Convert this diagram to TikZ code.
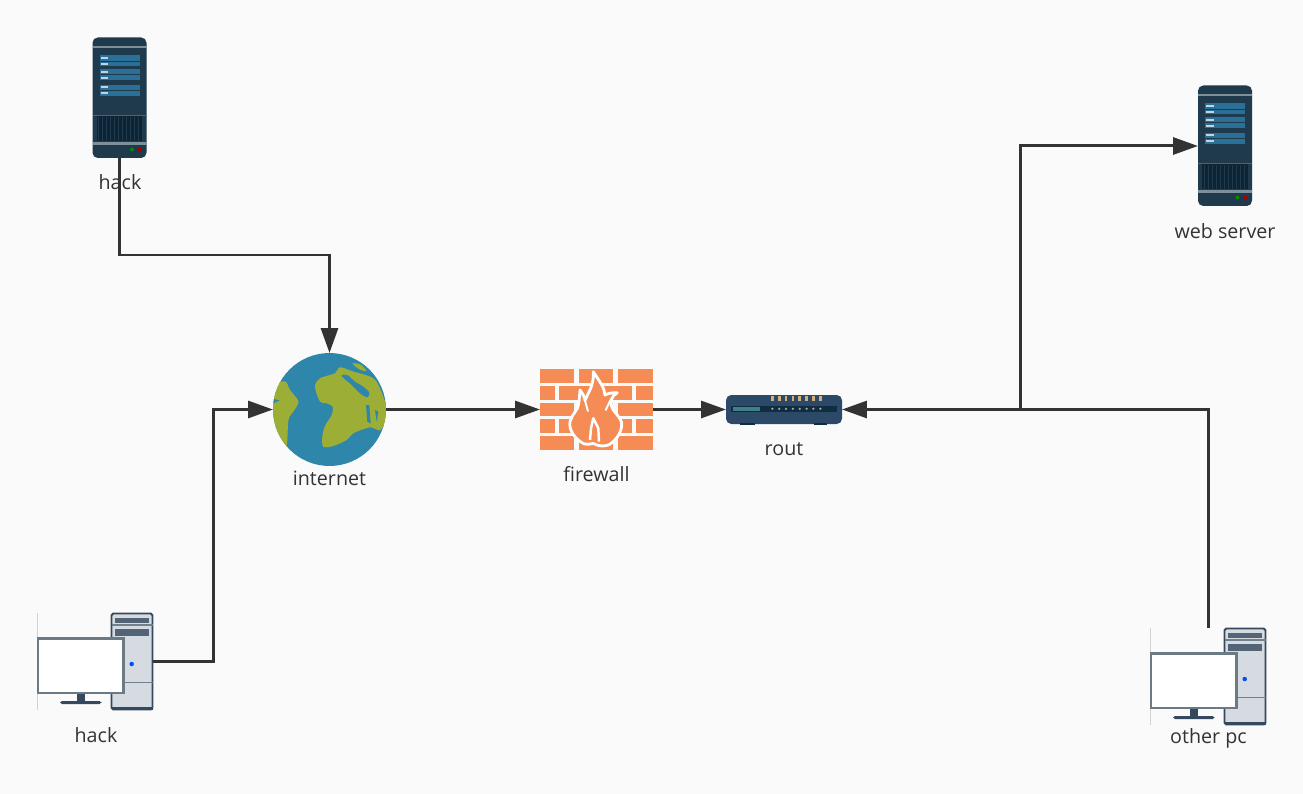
\documentclass[tikz,border=0pt]{standalone}
\usepackage{fontspec}
\setmainfont{Open Sans}
\usepackage{xcolor}
\usetikzlibrary{arrows.meta, positioning}
\definecolor{pagebg}{HTML}{FAFAFA}
\definecolor{wirecol}{HTML}{333333}
\definecolor{srvbody}{HTML}{1F3A4D}
\definecolor{srvbar}{HTML}{2A6F97}
\definecolor{srvgrill}{HTML}{0F2433}
\definecolor{srvband}{HTML}{7F8F9A}
\definecolor{oceancol}{HTML}{2E86AB}
\definecolor{landcol}{HTML}{9DAE36}
\definecolor{brickcol}{HTML}{F58B55}
\definecolor{routbody}{HTML}{2C4A68}
\definecolor{routstrip}{HTML}{0F2C40}
\definecolor{routled}{HTML}{D2B07E}
\definecolor{routbar}{HTML}{3F7F86}
\definecolor{towercol}{HTML}{D5DBE1}
\definecolor{pcedge}{HTML}{34495E}
\definecolor{monedge}{HTML}{6C7A86}

\tikzset{
  srvicon/.pic={
    \fill[srvbody, rounded corners=3pt] (-27,-60.5) rectangle (27,60);
    \fill[srvband] (-27,-51.5) rectangle (27,-49.5);
    \foreach \ya/\yb in {-42.5/-36.5,-36/-32,-28.5/-23.5,-22.5/-18,-13/-8,-7/-2}{
      \fill[srvbar] (-20,\ya) rectangle (20,\yb);
      \fill[white!70!srvbar] (-19,{(\ya+\yb)/2-1}) rectangle (-11.5,{(\ya+\yb)/2+1});
    }
    \fill[srvbar] (-27,16.7) rectangle (27,17.7);
    \fill[srvgrill] (-23,18) rectangle (22.5,43.5);
    \foreach \xa in {-21,-17,...,21}{
      \draw[srvbody, line width=.4pt] (\xa,19) -- (\xa,43);
    }
    \fill[srvband] (-27,44) rectangle (27,47);
    \fill[green!55!black] (12.5,51.5) circle (.04cm);
    \fill[red!65!black] (20.2,51.5) circle (.04cm);
  },
  pcicon/.pic={
    \draw[gray!35, line width=.5pt] (-58,-48.5) -- (-58,48.5);
    \fill[towercol, draw=pcedge, line width=1.1pt, rounded corners=1pt] (16,-48) rectangle (57,48);
    \fill[pcedge] (16,45) rectangle (57,48.5);
    \fill[pcedge!85] (19.5,-43.5) rectangle (53,-39);
    \draw[pcedge!70, line width=.7pt] (16,-36.5) -- (57,-36.5);
    \fill[pcedge!85] (19.5,-33) rectangle (53,-26);
    \draw[pcedge!70, line width=.7pt] (16,21) -- (57,21);
    \fill[blue!70!cyan] (36.2,2.5) circle (.045cm);
    \fill[pcedge] (-18.5,32) rectangle (-10.5,40);
    \fill[pcedge, rounded corners=1pt] (-35.5,39.5) rectangle (6,42.5);
    \fill[white, draw=monedge, line width=1.3pt] (-57.5,-23) rectangle (28,31.5);
  },
  globeicon/.pic={
    \fill[oceancol] (0,0) circle (1.13cm);
    \begin{scope}
      \clip (0,0) circle (1.13cm);
      \fill[landcol] plot[smooth cycle, tension=.5] coordinates {(-58,-23) (-44.5,-28) (-39.5,-19.5) (-31,-8) (-36,2) (-41,10.5) (-43,37) (-49.5,27) (-58,7)};
      \fill[oceancol] (-57,-11) -- (-50,-9) -- (-57,-6) -- cycle;
      \fill[landcol] plot[smooth cycle, tension=.5] coordinates {(-14.5,-22.8) (-9.5,-31.2) (5.5,-36.2) (10.5,-42.2) (23.8,-38) (40.5,-33) (47.2,-27.8) (53.8,-12.8) (58,3.8) (51.2,20.5) (40.5,17.8) (23.8,23.8) (17.2,30.5) (3.8,36.5) (-6.2,37.2) (-7.2,27.2) (-4.5,16.5) (2.2,5.5) (3.2,-2.8) (-2.8,-6.2) (-9.5,-7.8)};
      \fill[landcol] plot[smooth cycle, tension=.5] coordinates {(23,-46) (31,-45) (37,-38.5) (30,-40)};
      \fill[oceancol] plot[smooth cycle, tension=.5] coordinates {(12.2,-33.5) (17.8,-34.5) (25.5,-27.8) (33.8,-22.8) (39.8,-16.8) (37.8,-12.2) (30.5,-16.2) (22.2,-24.5)};
      \fill[oceancol] (36.5,-4.5) -- (39.8,-4.5) -- (41.2,14) -- (37.8,12.2) -- cycle;
      \fill[oceancol] (45.5,.5) -- (48.8,2.2) -- (47.2,12.2) -- cycle;
    \end{scope}
  },
  firewallicon/.pic={
    \foreach \ya in {-40.2,-7,26.5}{
      \foreach \xa/\xb in {-56.5/-22.2,-17.2/16.8,21.8/56.2}{
        \fill[brickcol] (\xa,\ya) rectangle (\xb,\ya+13.5);
      }
    }
    \foreach \ya in {-23.5,9.8}{
      \foreach \xa/\xb in {-56.5/-41.5,-37.2/-3.2,1.8/35.2,39.5/56.2}{
        \fill[brickcol] (\xa,\ya) rectangle (\xb,\ya+13.5);
      }
    }
    \fill[brickcol, draw=white, line width=1.6pt, line join=round]
      (-3.2,-37.8) .. controls (3,-28) and (8,-22) .. (8.5,-14.5)
      .. controls (11,-16) and (16,-17) .. (20.8,-16.8)
      .. controls (15,-13) and (12,-8) .. (16.8,.5)
      .. controls (22,7) and (26,12) .. (25.2,15)
      .. controls (25,25) and (17,33) .. (11.8,35.5)
      .. controls (7,37) and (3,37) .. (-3.2,34)
      .. controls (-8,35) and (-12,35) .. (-14,33.5)
      .. controls (-22,29) and (-28,20) .. (-26.5,12.2)
      .. controls (-25,5) and (-18,0) .. (-18,-5)
      .. controls (-17,-10) and (-17,-15) .. (-16.5,-19.5)
      .. controls (-14,-16) and (-12,-13) .. (-11.5,-9)
      .. controls (-9,-15) and (-6,-20) .. (-4.8,-24)
      .. controls (-3,-30) and (-3,-34) .. (-3.2,-37.8) -- cycle;
    \draw[white, line width=1.4pt, line join=round] (-6.5,30.5) -- (-5.5,18.8) -- (-3.2,8.8) -- (1.8,18.8) -- (2.5,32.2);
    \draw[white, line width=1.1pt] (-11.5,-9) -- (-8.5,2);
    \draw[white, line width=1.1pt] (14,-9.5) -- (9,1);
  },
  routicon/.pic={
    \fill[routbody, rounded corners=3pt] (-58,-14.5) rectangle (58,14.5);
    \fill[routstrip] (-44,13.5) rectangle (-29.5,15.5);
    \fill[routstrip] (29.5,13.5) rectangle (43,15.5);
    \fill[routstrip] (-53.3,-4) rectangle (52.7,2.7);
    \fill[routbar] (-50.7,-2.7) rectangle (-24,1);
    \foreach \xa in {-11.7,-4.8,2,8.9,15.7,22.6,29.4,36.3}{
      \fill[routled] (\xa-1.3,-14) rectangle (\xa+1.3,-8.3);
      \fill[gray!70] (\xa,-.7) circle (.025cm);
    }
  }
}

\begin{document}
\begin{tikzpicture}[
  x=0.02cm, y=-0.02cm,
  iconbox/.style={rectangle, inner sep=0pt, outer sep=0pt},
  tag/.style={font=\fontsize{11.2}{13}\selectfont, text=wirecol, inner sep=0pt, anchor=center},
  arr/.style={-{Stealth[inset=0pt, length=0.5cm, width=0.34cm]}, draw=wirecol, line width=0.06cm}
]
\fill[pagebg] (0,0) rectangle (1303,794);
\useasboundingbox (0,0) rectangle (1303,794);

% Icon boxes
\node[iconbox, minimum width=1.08cm, minimum height=2.4cm] (hacksrv) at (119.5,98) {};
\node[iconbox, minimum width=1.08cm, minimum height=2.4cm] (websrv) at (1225,146) {};
\node[iconbox, minimum width=2.26cm, minimum height=2.26cm] (globe) at (329.5,409.5) {};
\node[iconbox, minimum width=2.26cm, minimum height=1.6cm] (firewall) at (596.5,409.5) {};
\node[iconbox, minimum width=2.32cm, minimum height=0.58cm] (rout) at (784,409.5) {};
\node[iconbox, minimum width=2.3cm, minimum height=1.94cm] (hackpc) at (95.5,661.5) {};
\node[iconbox, minimum width=2.3cm, minimum height=1.94cm] (otherpc) at (1208.5,676.5) {};

% Bends
\coordinate (hackbend) at (119.5,255);
\coordinate (pcbend) at (213,535);
\coordinate (split) at (1020,409.5);

% Arrows
\draw[arr] (hacksrv.south) -- (hackbend) -| (globe.north);
\draw[arr] (hackpc.east) -| (pcbend) |- (globe.west);
\draw[arr] (globe.east) -- (firewall.west);
\draw[arr] (firewall.east) -- (rout.west);
\draw[arr] (otherpc.north) |- (rout.east);
\draw[arr] (split) |- (websrv.west);

% Icons
\pic at (hacksrv.center) {srvicon};
\pic at (websrv.center) {srvicon};
\pic at (globe.center) {globeicon};
\pic at (firewall.center) {firewallicon};
\pic at (rout.center) {routicon};
\pic at (hackpc.center) {pcicon};
\pic at (otherpc.center) {pcicon};

% Labels
\node[tag] (hacktop) at (120,182) {hack};
\node[tag] (webtag) at (1225,231) {web server};
\node[tag] (nettag) at (329.5,478) {internet};
\node[tag] (firetag) at (596.5,474) {firewall};
\node[tag] (routtag) at (784,449) {rout};
\node[tag] (hackbot) at (96,735) {hack};
\node[tag] (othertag) at (1208.5,738) {other pc};
\end{tikzpicture}
\end{document}
